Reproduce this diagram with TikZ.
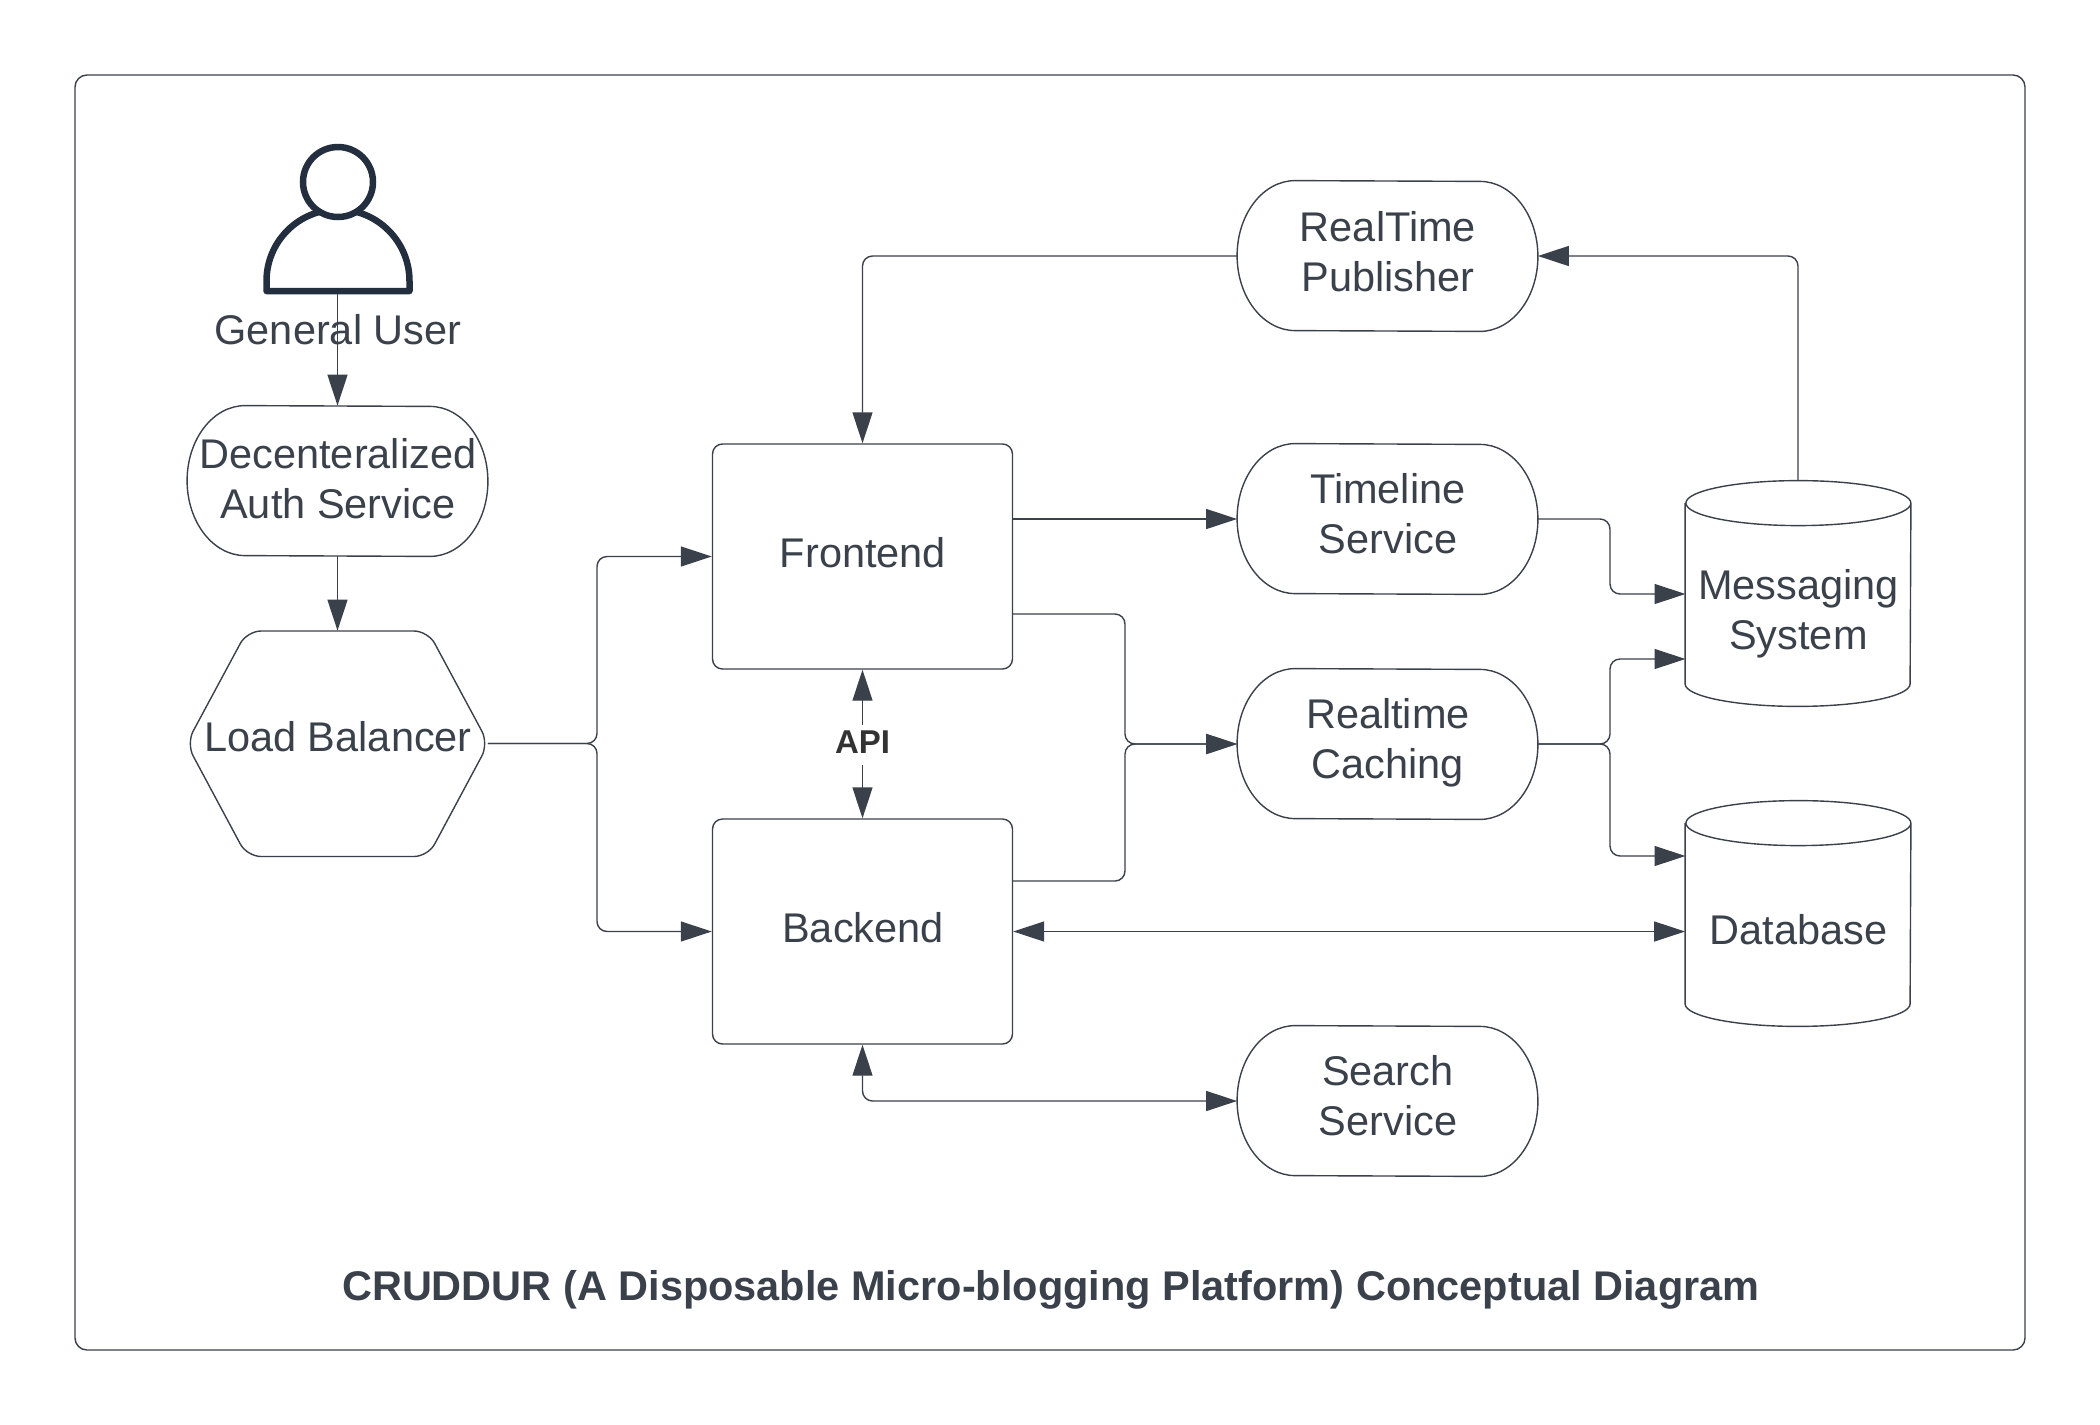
\documentclass[tikz,border=0pt]{standalone}
\usepackage{fontspec}
\setmainfont{Liberation Sans}
\usetikzlibrary{arrows.meta,calc}
\definecolor{linec}{HTML}{3A414A}
\definecolor{userc}{HTML}{232F3E}
\definecolor{apic}{HTML}{333333}
\tikzset{
  lbl/.style={text=linec,font=\fontsize{20.75}{25}\selectfont,align=center,inner sep=0pt},
  shapeline/.style={draw=linec,line width=0.7pt},
  boxnode/.style={shapeline,rounded corners=5pt,minimum width=150pt,minimum height=112.5pt,inner sep=0pt},
  ghost/.style={minimum width=150pt,minimum height=75pt,inner sep=0pt},
  cylghost/.style={minimum width=112.5pt,minimum height=112.5pt,inner sep=0pt},
  conn/.style={draw=linec,line width=0.7pt,rounded corners=5pt},
  head/.style={-{Triangle[length=15.5pt,width=10pt,color=linec]}},
  both/.style={{Triangle[length=15.5pt,width=10pt,color=linec]}-{Triangle[length=15.5pt,width=10pt,color=linec]}},
}
% pill with elliptical ends: #1 name, #2 cx, #3 cy, #4 text, #5 text y offset
\newcommand{\pillshape}[5]{%
  \node[ghost] (#1) at (#2,#3) {};
  \draw[shapeline] ($(#1.north west)+(58,0)$) arc[start angle=270,end angle=180,x radius=58,y radius=75]
    arc[start angle=180,end angle=90,x radius=58,y radius=75] -- ($(#1.south east)+(-58,0)$)
    arc[start angle=90,end angle=0,x radius=58,y radius=75]
    arc[start angle=0,end angle=-90,x radius=58,y radius=75] -- cycle;
  \node[lbl] (#1text) at (#2+0.4,#3+#5) {#4};
}
% cylinder: #1 name, #2 cx, #3 cy, #4 text, #5 text y offset
\newcommand{\cylshape}[5]{%
  \node[cylghost] (#1) at (#2,#3) {};
  \draw[shapeline] (#1.north west) ++(0,22.5) -- ($(#1.south west)+(0,-22.5)$)
     arc[start angle=180,end angle=0,x radius=112.5,y radius=22.5] -- ($(#1.north east)+(0,22.5)$)
     arc[start angle=0,end angle=-180,x radius=112.5,y radius=22.5]
     arc[start angle=180,end angle=0,x radius=112.5,y radius=22.5];
  \node[lbl] (#1text) at (#2+0.4,#3+#5) {#4};
}
\begin{document}
\begin{tikzpicture}[x=0.5pt,y=-0.5pt]
\useasboundingbox (0,0) rectangle (2100,1425);
\node[draw=linec,line width=0.7pt,rounded corners=6pt,minimum width=975pt,minimum height=637.5pt,inner sep=0pt] (frame) at (1050,712.5) {};
\node[lbl,font=\fontsize{20.74}{25}\selectfont\bfseries] (title) at (1050.8,1290) {CRUDDUR (A Disposable Micro-blogging Platform) Conceptual Diagram};
% user
\draw[draw=userc,line width=3.25pt,line join=round,fill=white] (266.5,291) -- (266.5,281) arc[start angle=180,end angle=360,x radius=71.5,y radius=71.5] -- (409.5,291) -- cycle;
\node[circle,draw=userc,line width=3.25pt,fill=white,minimum size=35pt,inner sep=0pt] (userhead) at (338,182) {};
\coordinate (userfoot) at (337.5,294);
\node[lbl] (usertext) at (338,329.5) {General User};
% shapes
\pillshape{auth}{337.5}{481}{Decenteralized\\Auth Service}{-2.7}
\node[minimum width=150pt,minimum height=112.5pt,inner sep=0pt] (lb) at (337.5,743.5) {};
\draw[shapeline,rounded corners=7pt] (186.5,743.5) -- (247,631) -- (428,631) -- (488.5,743.5) -- (428,856.5) -- (247,856.5) -- cycle;
\node[lbl] (lbtext) at (338,737) {Load Balancer};
\node[boxnode] (fe) at (862.5,556.5) {};
\node[lbl] (fetext) at (863,553) {Frontend};
\node[boxnode] (be) at (862.5,931.5) {};
\node[lbl] (betext) at (863,928) {Backend};
\pillshape{rtp}{1387.5}{256}{RealTime\\Publisher}{-4.5}
\pillshape{tl}{1387.5}{519}{Timeline\\Service}{-5.3}
\pillshape{rc}{1387.5}{744}{Realtime\\Caching}{-1.3}
\pillshape{ss}{1387.5}{1101}{Search\\Service}{-5.3}
\cylshape{msg}{1798}{593.5}{Messaging\\System}{20.5}
\cylshape{db}{1798}{913.5}{Database}{16}
% connector helper points
\coordinate (lbfork) at (597,743.5);
\coordinate (rcin) at (1125,744);
\coordinate (rcout) at (1610,744);
\coordinate (feout) at (1012.5,614);
\coordinate (beout) at (1012.5,881);
\coordinate (msgin1) at (1685.5,594);
\coordinate (msgin2) at (1685.5,659);
\coordinate (dbin) at (1685.5,856);
\coordinate (tlbend) at (1610,519);
% connectors
\draw[conn,head] (userfoot) -- (auth.north);
\draw[conn,head] (auth.south) -- (lb.north);
\draw[conn,head] (lb.east) -- (lbfork) |- (fe.west);
\draw[conn,head] (lb.east) -- (lbfork) |- (be.west);
\draw[conn,both] (fe.south) -- (be.north);
\node[fill=white,text=apic,font=\fontsize{16.5}{19}\selectfont\bfseries,inner xsep=1pt,inner ysep=0pt,minimum height=20pt] (api) at (862.5,745) {\raisebox{2.5pt}{API}};
\draw[conn,head] (rtp.west) -| (fe.north);
\draw[conn,head] (msg.north) |- (rtp.east);
\draw[conn,head] (fe.east |- tl.west) -- (tl.west);
\draw[conn,head] (tl.east) -- (tlbend) |- (msgin1);
\draw[conn,head] (feout) -| (rcin) -- (rc.west);
\draw[conn,head] (beout) -| (rcin) -- (rc.west);
\draw[conn,head] (rc.east) -- (rcout) |- (msgin2);
\draw[conn,head] (rc.east) -- (rcout) |- (dbin);
\draw[conn,both] (be.east) -- (db.west |- be.east);
\draw[conn,both] (be.south) |- (ss.west);
\end{tikzpicture}
\end{document}
